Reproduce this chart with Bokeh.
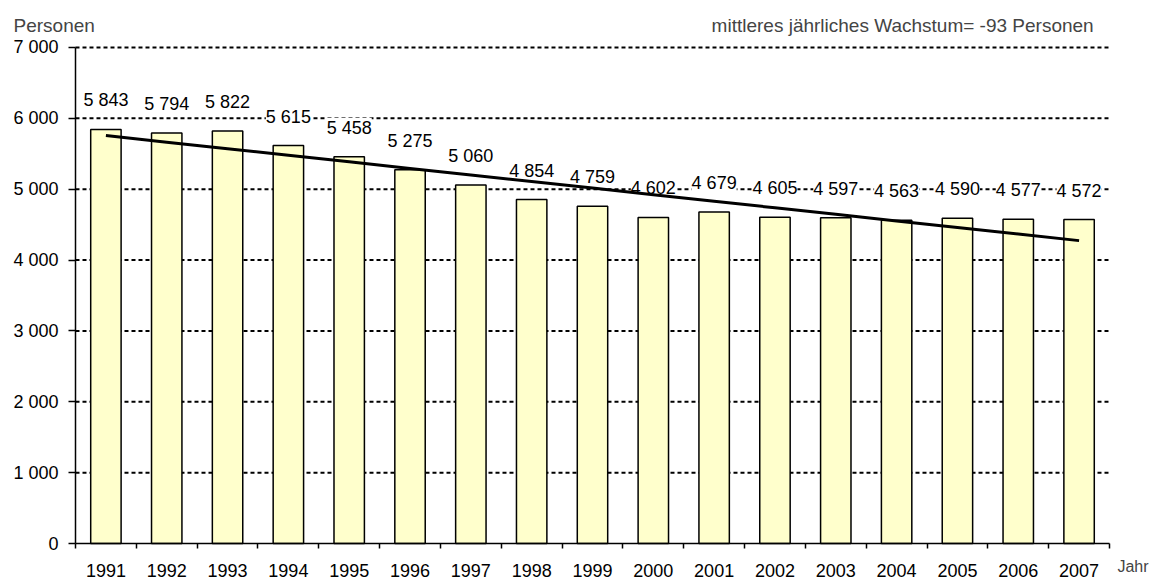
import numpy as np
from bokeh.plotting import figure
from bokeh.models import (ColumnDataSource, FixedTicker, Range1d, LabelSet, Label)
from bokeh.core.properties import value
from bokeh.embed import file_html
from bokeh.resources import INLINE

years = [1991, 1992, 1993, 1994, 1995, 1996, 1997, 1998, 1999, 2000,
         2001, 2002, 2003, 2004, 2005, 2006, 2007]
persons = [5843, 5794, 5822, 5615, 5458, 5275, 5060, 4854, 4759, 4602,
           4679, 4605, 4597, 4563, 4590, 4577, 4572]
y_ticks = [0, 1000, 2000, 3000, 4000, 5000, 6000, 7000]
title_left = "Personen"
title_right = "mittleres jährliches Wachstum= -93 Personen"
x_title = "Jahr"

FONT = "Liberation Sans"
FS = "18px"
FS_TITLE = "19px"

def fmt(v):
    return f"{v:,}".replace(",", " ")

idx = list(range(len(years)))
x_lo, x_hi = -0.5, len(years) - 0.5
slope, intercept = np.polyfit(idx, persons, 1)
trend = [intercept + slope * i for i in idx]

src = ColumnDataSource(dict(x=idx, top=persons, lbl=[fmt(v) for v in persons]))
grid_ticks = [t for t in y_ticks if t > 0]
gsrc = ColumnDataSource(dict(y=grid_ticks, x0=[x_lo] * len(grid_ticks), x1=[x_hi] * len(grid_ticks)))

p = figure(width=1154, height=580, output_backend="svg", toolbar_location=None,
           x_range=Range1d(-1.733, 17.24), y_range=Range1d(-522, 7663),
           min_border=0)
p.outline_line_color = None
p.background_fill_color = "white"
p.border_fill_color = "white"
p.xgrid.visible = False
p.ygrid.visible = False

# dotted horizontal grid lines across the category extent
p.segment(x0="x0", x1="x1", y0="y", y1="y", source=gsrc, line_color="black",
          line_width=2, line_dash="4 3", level="underlay")

labels = LabelSet(x="x", y="top", text="lbl", source=src, y_offset=19,
                  text_align="center", text_baseline="bottom",
                  text_font=value(FONT), text_font_size=value(FS), text_color="black",
                  background_fill_color="white", level="underlay")
p.add_layout(labels)

p.vbar(x="x", top="top", width=0.5, source=src, fill_color="#FFFFCC",
       line_color="black", line_width=1.5)
p.line(idx, trend, line_color="black", line_width=3)

# axes
p.xaxis.fixed_location = 0
p.xaxis.bounds = (x_lo, x_hi)
p.xaxis.ticker = FixedTicker(ticks=idx, minor_ticks=[i - 0.5 for i in range(len(years) + 1)])
p.xaxis.major_label_overrides = {i: str(y) for i, y in enumerate(years)}
p.xaxis.major_tick_line_color = None
p.xaxis.minor_tick_line_color = "black"
p.xaxis.minor_tick_line_width = 1.5
p.xaxis.minor_tick_out = 5
p.xaxis.minor_tick_in = 0
p.xaxis.major_label_standoff = 14
p.xaxis.axis_line_color = "black"
p.xaxis.axis_line_width = 1.5
p.xaxis.major_label_text_font = FONT
p.xaxis.major_label_text_font_size = FS
p.xaxis.major_label_text_color = "black"

p.yaxis.fixed_location = x_lo
p.yaxis.bounds = (0, 7000)
p.yaxis.ticker = FixedTicker(ticks=y_ticks)
p.yaxis.major_label_overrides = {t: fmt(t) for t in y_ticks}
p.yaxis.minor_tick_line_color = None
p.yaxis.major_tick_line_color = "black"
p.yaxis.major_tick_line_width = 1.5
p.yaxis.major_tick_out = 7
p.yaxis.major_tick_in = 0
p.yaxis.major_label_standoff = 10
p.yaxis.axis_line_color = "black"
p.yaxis.axis_line_width = 1.5
p.yaxis.major_label_text_font = FONT
p.yaxis.major_label_text_font_size = FS
p.yaxis.major_label_text_color = "black"

p.add_layout(Label(x=-1.519, y=7310, text=title_left,
                   text_font=FONT, text_font_size=FS_TITLE, text_baseline="middle",
                   text_align="left"))
p.add_layout(Label(x=16.24, y=7310, text=title_right,
                   text_font=FONT, text_font_size=FS_TITLE, text_baseline="middle",
                   text_align="right"))
p.add_layout(Label(x=16.63, y=-330, text=x_title,
                   text_font=FONT, text_font_size="16px", text_baseline="middle",
                   text_align="left"))

open("out.html", "w").write(file_html(p, INLINE))
